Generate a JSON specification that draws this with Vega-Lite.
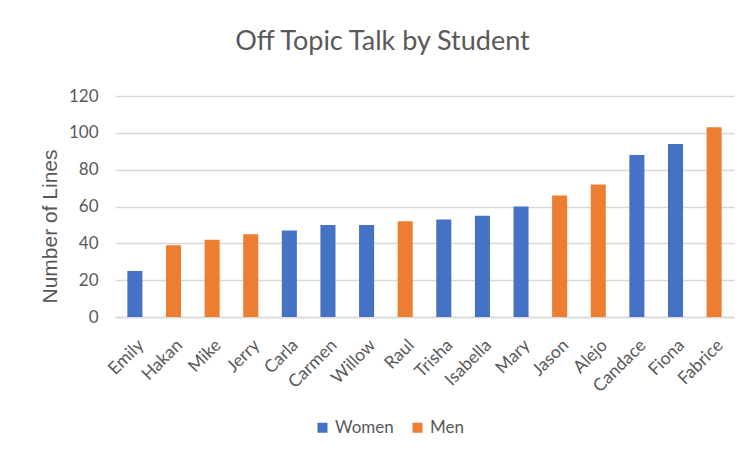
{
  "$schema": "https://vega.github.io/schema/vega-lite/v6.json",
  "width": 619,
  "height": 221,
  "autosize": {"type": "none"},
  "padding": {"left": 115, "top": 96, "right": 17, "bottom": 137},
  "background": "white",
  "title": {
    "text": "Off Topic Talk by Student",
    "fontSize": 27,
    "font": "Lato",
    "fontWeight": "normal",
    "color": "#595959",
    "anchor": "middle",
    "dx": -42,
    "offset": 31
  },
  "data": {
    "values": [
      {"student": "Emily", "lines": 25, "gender": "Women"},
      {"student": "Hakan", "lines": 39, "gender": "Men"},
      {"student": "Mike", "lines": 42, "gender": "Men"},
      {"student": "Jerry", "lines": 45, "gender": "Men"},
      {"student": "Carla", "lines": 47, "gender": "Women"},
      {"student": "Carmen", "lines": 50, "gender": "Women"},
      {"student": "Willow", "lines": 50, "gender": "Women"},
      {"student": "Raul", "lines": 52, "gender": "Men"},
      {"student": "Trisha", "lines": 53, "gender": "Women"},
      {"student": "Isabella", "lines": 55, "gender": "Women"},
      {"student": "Mary", "lines": 60, "gender": "Women"},
      {"student": "Jason", "lines": 66, "gender": "Men"},
      {"student": "Alejo", "lines": 72, "gender": "Men"},
      {"student": "Candace", "lines": 88, "gender": "Women"},
      {"student": "Fiona", "lines": 94, "gender": "Women"},
      {"student": "Fabrice", "lines": 103, "gender": "Men"}
    ]
  },
  "mark": {"type": "bar"},
  "encoding": {
    "x": {
      "field": "student",
      "type": "nominal",
      "sort": null,
      "scale": {"paddingInner": 0.61, "paddingOuter": 0.32},
      "axis": {
        "title": null,
        "labelAngle": -45,
        "labelFont": "Lato",
        "labelFontSize": 17.5,
        "labelColor": "#595959",
        "labelPadding": 19,
        "ticks": false,
        "domainColor": "#d9d9d9",
        "domainWidth": 1.5
      }
    },
    "y": {
      "field": "lines",
      "type": "quantitative",
      "scale": {"domain": [0, 120]},
      "axis": {
        "title": "Number of Lines",
        "titleFont": "Liberation Sans",
        "titleFontSize": 21,
        "titleFontWeight": "normal",
        "titleColor": "#595959",
        "titlePadding": 8,
        "titleY": 130,
        "values": [0, 20, 40, 60, 80, 100, 120],
        "labelFont": "Lato",
        "labelFontSize": 17,
        "labelColor": "#595959",
        "labelPadding": 17,
        "ticks": false,
        "domain": false,
        "gridColor": "#d9d9d9",
        "gridWidth": 1.5
      }
    },
    "color": {
      "field": "gender",
      "type": "nominal",
      "scale": {"domain": ["Women", "Men"], "range": ["#4472C4", "#ED7D31"]},
      "legend": {
        "title": null,
        "orient": "none",
        "direction": "horizontal",
        "legendX": 199,
        "legendY": 323,
        "symbolType": "square",
        "symbolSize": 100,
        "symbolStrokeWidth": 0,
        "labelFont": "Lato",
        "labelFontSize": 17,
        "labelColor": "#595959",
        "labelOffset": 4,
        "columnPadding": 15,
        "padding": 0
      }
    }
  },
  "config": {"view": {"stroke": null}}
}
